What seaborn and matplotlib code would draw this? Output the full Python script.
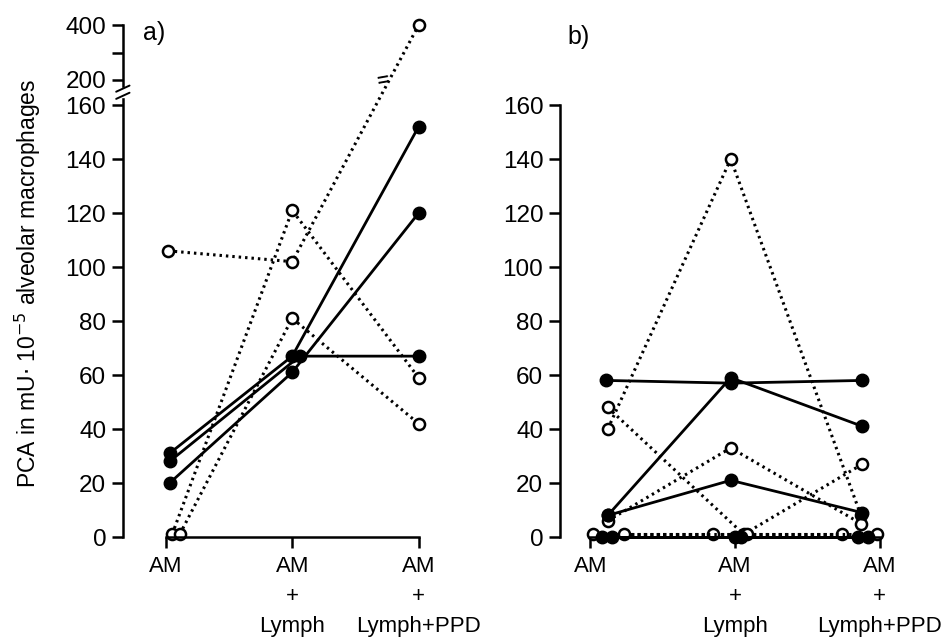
import numpy as np
import pandas as pd
import seaborn as sns
import matplotlib
matplotlib.use('Agg')
import matplotlib.pyplot as plt

# x categories
STAGES = ['AM', 'AM\n+\nLymph', 'AM\n+\nLymph+PPD']

# panel a) : values at AM, AM+Lymph, AM+Lymph+PPD
a_closed_vals = [[31, 67, 152], [28, 67, 67], [20, 61, 120]]
a_closed_jit = [[0.03, 0.0, 0.0], [0.03, 0.06, 0.0], [0.03, 0.0, 0.0]]
a_open_vals = [[106, 102, 400], [1, 121, 59], [1, 81, 42]]
a_open_jit = [[0.02, 0.0, 0.0], [0.05, 0.0, 0.0], [0.11, 0.0, 0.0]]

# panel b)
b_closed_vals = [[58, 57, 58], [8, 59, 41], [8, 21, 9], [0, 0, 0], [0, 0, 0]]
b_closed_jit = [[0.11, -0.03, -0.12], [0.12, -0.03, -0.12], [0.12, -0.03, -0.12],
                [0.08, 0.0, -0.15], [0.15, 0.04, -0.08]]
b_open_vals = [[40, 140, 8], [48, 1, 27], [6, 33, 5], [1, 1, 1], [1, 1, 1]]
b_open_jit = [[0.12, -0.03, -0.13], [0.12, 0.06, -0.12], [0.12, -0.03, -0.13],
              [0.02, -0.15, -0.26], [0.23, 0.08, -0.02]]


def longForm(vals, jit, prefix):
    rows = []
    for i, (v, j) in enumerate(zip(vals, jit)):
        for k in range(3):
            rows.append({'subject': prefix + str(i), 'x': k + j[k], 'value': v[k]})
    return pd.DataFrame(rows)


# broken axis for panel a): 0-160 linear, then squeezed 200-400
def fwd(y):
    y = np.asarray(y, dtype=float)
    return np.where(y <= 160, y,
                    np.where(y <= 200, 160 + (y - 160) * (9.3 / 40),
                             169.3 + (y - 200) * (20.3 / 200)))


def inv(t):
    t = np.asarray(t, dtype=float)
    return np.where(t <= 160, t,
                    np.where(t <= 169.3, 160 + (t - 160) * (40 / 9.3),
                             200 + (t - 169.3) * (200 / 20.3)))


sns.set_style('ticks')
plt.rcParams['font.family'] = ['Liberation Sans', 'DejaVu Sans']
plt.rcParams['axes.linewidth'] = 1.8
for key in ['text.color', 'xtick.color', 'ytick.color', 'axes.edgecolor', 'axes.labelcolor']:
    plt.rcParams[key] = 'black'

fig = plt.figure(figsize=(9.45, 6.39), dpi=100)
axA = fig.add_axes([0.130, 0.1596, 0.321, 0.801])
axB = fig.add_axes([0.5926, 0.1596, 0.346, 0.676])

LW = 2.0
MS = 8
dotted = (0, (0.8, 1.3))


def drawPanel(ax, closedVals, closedJit, openVals, openJit, p):
    dfC = longForm(closedVals, closedJit, p + 'c')
    dfO = longForm(openVals, openJit, p + 'o')
    sns.lineplot(data=dfO, x='x', y='value', units='subject', estimator=None, ax=ax,
                 color='black', linewidth=2.2, linestyle=dotted, marker='o', markersize=MS,
                 markerfacecolor='white', markeredgecolor='black', markeredgewidth=1.8,
                 clip_on=False, sort=False)
    sns.lineplot(data=dfC, x='x', y='value', units='subject', estimator=None, ax=ax,
                 color='black', linewidth=LW, marker='o', markersize=MS + 1,
                 markerfacecolor='black', markeredgecolor='black', markeredgewidth=1.0,
                 clip_on=False, sort=False)
    ax.set_xticks(range(3))
    ax.set_xticklabels(STAGES, fontsize=16, linespacing=1.55)
    ax.set_xlabel('')
    ax.set_ylabel('')
    sns.despine(ax=ax)
    ax.spines['bottom'].set_bounds(0, 2)
    ax.tick_params(axis='y', labelsize=17.5, pad=4)
    ax.tick_params(axis='x', pad=6)
    ax.tick_params(axis='both', direction='out', length=8, width=1.8, color='black')


drawPanel(axA, a_closed_vals, a_closed_jit, a_open_vals, a_open_jit, 'a')
axA.set_yscale('function', functions=(fwd, inv))
axA.set_ylim(0, 400)
axA.set_xlim(-0.34, 2.06)
a_ticks = [0, 20, 40, 60, 80, 100, 120, 140, 160, 200, 300, 400]
axA.set_yticks(a_ticks)
axA.set_yticklabels([str(t) if t != 300 else '' for t in a_ticks])
axA.yaxis.set_minor_locator(matplotlib.ticker.NullLocator())

# break marks on the axis and on the long line
axA.add_patch(plt.Rectangle((-0.01, 0.860), 0.02, 0.018, transform=axA.transAxes,
                            color='white', clip_on=False, zorder=5))
for dy in (0.0, 0.014):
    axA.plot([-0.022, 0.022], [0.856 + dy, 0.868 + dy], transform=axA.transAxes,
             color='black', lw=1.4, clip_on=False, zorder=6)
axA.text(1.72, 197, '=', ha='center', va='center', fontsize=15, rotation=10,
         fontweight='bold')

drawPanel(axB, b_closed_vals, b_closed_jit, b_open_vals, b_open_jit, 'b')
axB.set_ylim(0, 160)
axB.set_xlim(-0.21, 2.05)
axB.set_yticks(range(0, 161, 20))

fig.text(0.151, 0.948, 'a)', fontsize=18, ha='left', va='center')
fig.text(0.600, 0.942, 'b)', fontsize=18, ha='left', va='center')
fig.text(0.030, 0.557, 'PCA in mU$\\cdot$ 10$^{-5}$ alveolar macrophages', rotation=90,
         fontsize=16.5, ha='center', va='center')

fig.savefig('out.png', dpi=100)
